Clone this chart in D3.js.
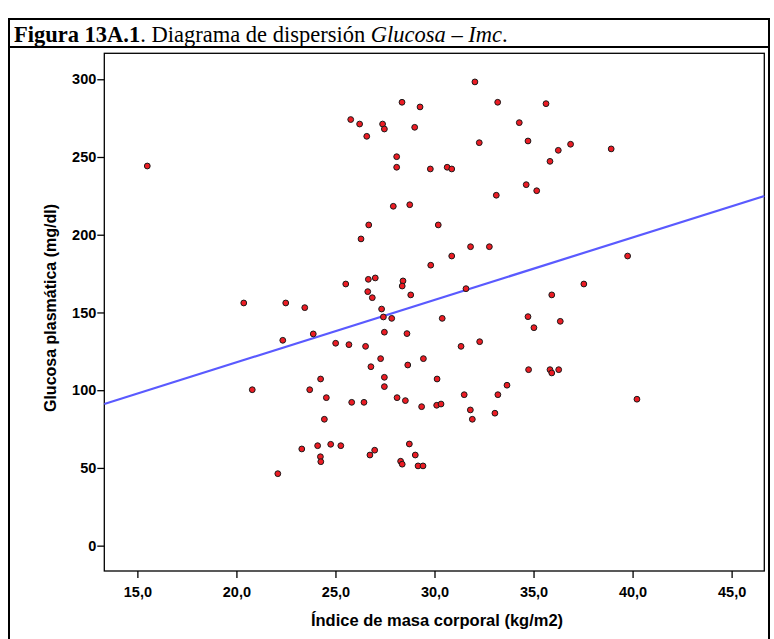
<!DOCTYPE html>
<html>
<head>
<meta charset="utf-8">
<script src="https://cdn.jsdelivr.net/npm/d3@7"></script>
<style>
  body { margin: 0; background: #fff; }
  svg { display: block; }
</style>
</head>
<body>
<svg id="chart" width="774" height="639"></svg>
<script>
// IMC (kg/m2) of each patient
const imc = [
  15.5, 32.04, 28.36, 29.27, 33.19, 35.63, 25.77, 26.22, 27.38, 27.47,
  29.0, 34.28, 26.58, 32.26, 34.72, 36.87, 36.25, 38.92, 35.83, 28.09,
  28.09, 29.79, 30.64, 30.87, 34.63, 35.16, 33.12, 27.92, 28.75, 26.68,
  30.19, 26.29, 31.82, 32.77, 30.87, 29.81, 39.75, 25.52, 26.66, 27.01,
  28.41, 28.37, 26.63, 26.86, 28.80, 31.59, 35.92, 37.54, 40.22,
  20.37, 22.49, 23.45, 22.34, 23.88, 25.01, 20.80, 23.70, 24.25, 24.54,
  24.44, 23.30, 24.10, 24.76, 25.27, 24.24, 24.26, 22.09,
  27.33, 27.42, 27.84, 30.39, 34.72, 35.02, 36.35, 27.47, 28.61, 25.68,
  26.52, 31.34, 32.28, 27.28, 26.79, 28.65, 29.44, 27.47, 27.47, 30.13,
  34.75, 35.83, 35.92, 36.27, 33.66, 33.20, 31.50, 25.82, 26.44, 28.11,
  28.53, 29.35, 30.11, 30.33, 31.81, 31.91, 33.05, 26.74, 26.98, 28.73,
  29.03, 28.29, 28.37, 29.17, 29.42
];

// glucosa plasmática (mg/dl) of each patient, same order
const glucosa = [
  244.2, 298.3, 285.2, 282.2, 285.2, 284.3, 274.1, 271.2, 271.2, 268.0,
  269.1, 272.1, 263.3, 259.2, 260.3, 258.2, 254.3, 255.2, 247.2, 250.2,
  243.4, 242.3, 243.4, 242.3, 232.2, 228.3, 225.4, 218.3, 219.3, 206.3,
  206.3, 197.3, 192.3, 192.3, 186.3, 180.4, 186.3, 168.3, 171.3, 172.2,
  170.3, 167.0, 163.4, 159.5, 161.3, 165.3, 161.3, 168.3, 94.2,
  156.1, 156.1, 153.1, 132.1, 136.2, 130.2, 100.3, 100.3, 107.2, 95.2,
  81.3, 62.2, 64.3, 65.2, 64.3, 57.2, 54.0, 46.3,
  152.2, 147.1, 146.2, 146.2, 147.3, 140.2, 144.3, 137.3, 136.4, 129.3,
  128.2, 128.2, 131.2, 120.3, 115.1, 116.2, 120.3, 108.3, 102.3, 107.2,
  113.2, 113.2, 111.1, 113.2, 103.2, 97.1, 97.1, 92.2, 92.2, 95.2,
  93.3, 89.4, 90.3, 91.1, 87.3, 81.3, 85.2, 58.3, 61.4, 65.4,
  58.3, 54.3, 52.4, 51.3, 51.3
];

// fitted line: glucosa = a + b * imc
const fitLine = [37.6, 4.016];

const xTicks = [15, 20, 25, 30, 35, 40, 45];
const yTicks = [0, 50, 100, 150, 200, 250, 300];

const svg = d3.select("#chart");
const W = 774, H = 639;
const sans = "'Liberation Sans', Arial, sans-serif";

svg.append("rect").attr("width", W).attr("height", H).attr("fill", "#fff");

// outer frame + title row
const frame = svg.append("g").attr("stroke", "#000").attr("stroke-width", 2).attr("fill", "none");
frame.append("path").attr("d", `M9,${H + 2}V19H769V${H + 2}`);
frame.append("line").attr("x1", 9).attr("x2", 769).attr("y1", 47).attr("y2", 47);

const title = svg.append("text")
  .attr("x", 14).attr("y", 42)
  .style("font-family", "'Liberation Serif', 'Times New Roman', serif")
  .style("font-size", "22.5px")
  .attr("fill", "#000");
title.append("tspan").style("font-weight", "bold").text("Figura 13A.1");
title.append("tspan").text(". Diagrama de dispersión ");
title.append("tspan").style("font-style", "italic").text("Glucosa");
title.append("tspan").text(" – ");
title.append("tspan").style("font-style", "italic").text("Imc");
title.append("tspan").text(".");

// plot area
const margin = { left: 104.3, right: 764.3, top: 53.3, bottom: 571 };

const x = d3.scaleLinear().domain([13.33, 46.65]).range([margin.left, margin.right]);
const y = d3.scaleLinear().domain([-16.3, 316.7]).range([margin.bottom, margin.top]);

const fmtX = v => d3.format(".1f")(v).replace(".", ",");

const xAxis = svg.append("g")
  .attr("transform", `translate(0,${margin.bottom})`)
  .call(d3.axisBottom(x).tickValues(xTicks).tickSize(7).tickSizeOuter(0).tickFormat(fmtX));

const yAxis = svg.append("g")
  .attr("transform", `translate(${margin.left},0)`)
  .call(d3.axisLeft(y).tickValues(yTicks).tickSize(7).tickSizeOuter(0).tickPadding(1));

[xAxis, yAxis].forEach(ax => {
  ax.select(".domain").remove();
  ax.selectAll("line").attr("stroke", "#000").attr("stroke-width", 1.3);
  ax.selectAll("text")
    .style("font-family", sans)
    .style("font-weight", "bold")
    .style("font-size", "14.5px")
    .attr("fill", "#000");
});
xAxis.selectAll("text").attr("y", 26).attr("dy", null);

svg.append("rect")
  .attr("x", margin.left).attr("y", margin.top)
  .attr("width", margin.right - margin.left).attr("height", margin.bottom - margin.top)
  .attr("fill", "none").attr("stroke", "#000").attr("stroke-width", 1.3);

// regression line across the plot box
const x0 = x.domain()[0], x1 = x.domain()[1];
svg.append("line")
  .attr("x1", x(x0)).attr("y1", y(fitLine[0] + fitLine[1] * x0))
  .attr("x2", x(x1)).attr("y2", y(fitLine[0] + fitLine[1] * x1))
  .attr("stroke", "#5a5aff").attr("stroke-width", 2.2);

// points
svg.append("g")
  .selectAll("circle")
  .data(imc.map((v, i) => [v, glucosa[i]]))
  .enter()
  .append("circle")
  .attr("cx", d => x(d[0]))
  .attr("cy", d => y(d[1]))
  .attr("r", 2.9)
  .attr("fill", "#ec1c24")
  .attr("stroke", "#1a1a1a")
  .attr("stroke-width", 1);

// axis titles
svg.append("text")
  .attr("x", 437).attr("y", 626)
  .attr("text-anchor", "middle")
  .style("font-family", sans)
  .style("font-weight", "bold")
  .style("font-size", "16.5px")
  .text("Índice de masa corporal (kg/m2)");

svg.append("text")
  .attr("transform", `translate(56,308) rotate(-90)`)
  .attr("text-anchor", "middle")
  .style("font-family", sans)
  .style("font-weight", "bold")
  .style("font-size", "16px")
  .text("Glucosa plasmática (mg/dl)");
</script>
</body>
</html>
